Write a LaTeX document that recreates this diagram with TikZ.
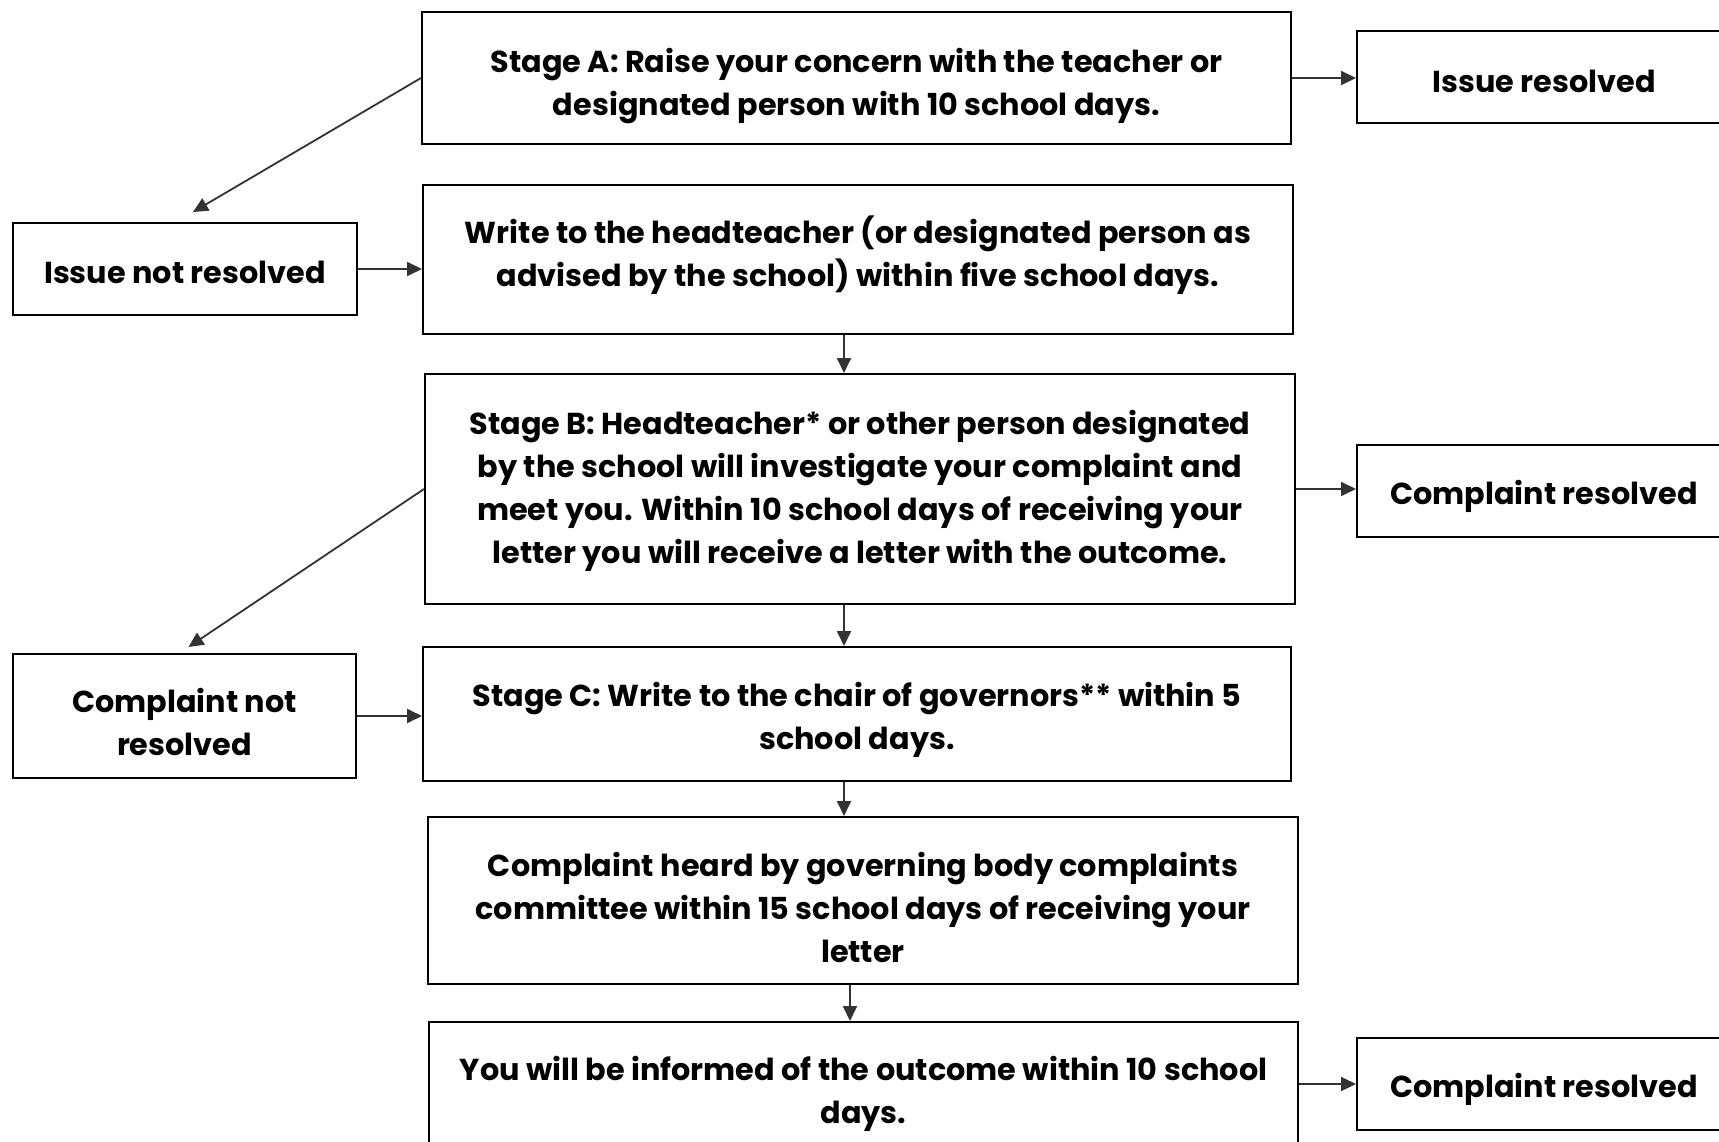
\documentclass[tikz,border=0pt]{standalone}
\usepackage{fontspec}
\setmainfont{Poppins}
\usetikzlibrary{arrows.meta,calc}
\definecolor{linec}{HTML}{333333}
\newcommand\boxtext[2]{\raisebox{#1}[\height][\depth]{\begin{tabular}{@{}c@{}}#2\end{tabular}}}
\begin{document}
\begin{tikzpicture}[x=1pt,y=-1pt,
  box/.style={draw=black,line width=2pt,inner sep=0pt,
    font=\fontsize{30.3}{43}\selectfont\bfseries},
  arr/.style={draw=linec,line width=1.8pt,-{Triangle[length=15pt,width=14pt]}}]
\useasboundingbox (0,0) rectangle (1719,1142);
\clip (0,0) rectangle (1719,1142);
\fill[white] (0,0) rectangle (1719,1142);
\coordinate (col) at (844,0);
\coordinate (col2) at (850,0);
\node[box,minimum width=869pt,minimum height=132pt] (A) at (856.5,78)
  {\boxtext{-7.7pt}{Stage A: Raise your concern with the teacher or\\designated person with 10 school days.}};
\node[box,minimum width=374pt,minimum height=92pt] (IR) at (1544,77) {\boxtext{-6.6pt}{Issue resolved}};
\node[box,minimum width=344pt,minimum height=92pt] (INR) at (185,269) {\boxtext{-5.5pt}{Issue not resolved}};
\node[box,minimum width=870pt,minimum height=149pt] (W) at (858,259.5)
  {\boxtext{3.4pt}{Write to the headteacher (or designated person as\\advised by the school) within five school days.}};
\node[box,minimum width=870pt,minimum height=230pt] (B) at (860,489)
  {\boxtext{-1.1pt}{Stage B: Headteacher* or other person designated\\by the school will investigate your complaint and\\meet you. Within 10 school days of receiving your\\letter you will receive a letter with the outcome.}};
\node[box,minimum width=374pt,minimum height=92pt] (CR1) at (1544,491) {\boxtext{-4.5pt}{Complaint resolved}};
\node[box,minimum width=343pt,minimum height=124pt] (CNR) at (184.5,716) {\boxtext{-9.8pt}{Complaint not\\resolved}};
\node[box,minimum width=868pt,minimum height=134pt] (C) at (857,714)
  {\boxtext{-5pt}{Stage C: Write to the chair of governors** within 5\\school days.}};
\node[box,minimum width=870pt,minimum height=167pt] (H) at (863,900.5)
  {\boxtext{-9.9pt}{Complaint heard by governing body complaints\\committee within 15 school days of receiving your\\letter}};
\node[box,minimum width=869pt,minimum height=138pt] (Y) at (863.5,1091)
  {\boxtext{-2.7pt}{You will be informed of the outcome within 10 school\\days.}};
\node[box,minimum width=374pt,minimum height=92pt] (CR2) at (1544,1084) {\boxtext{-4.5pt}{Complaint resolved}};
\draw[arr] (A.east) -- (A.east -| IR.west);
\draw[arr] (A.west) -- ($(INR.north)+(8,-10)$);
\draw[arr] (INR.east) -- (INR.east -| W.west);
\draw[arr] (W.south -| col) -- (B.north -| col);
\draw[arr] (B.east) -- (B.east -| CR1.west);
\draw[arr] (B.west) -- ($(CNR.north)+(4,-6)$);
\draw[arr] (CNR.east) -- (CNR.east -| C.west);
\draw[arr] (B.south -| col) -- (C.north -| col);
\draw[arr] (C.south -| col) -- (H.north -| col);
\draw[arr] (H.south -| col2) -- (Y.north -| col2);
\draw[arr] (Y.east |- CR2.west) -- (CR2.west);
\end{tikzpicture}
\end{document}
